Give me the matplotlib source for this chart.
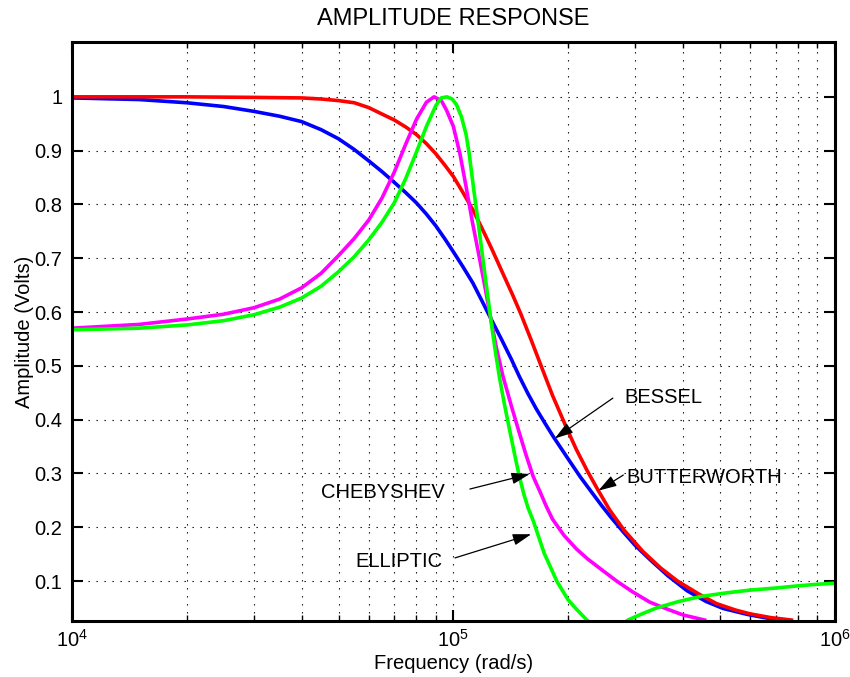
import matplotlib
matplotlib.use("Agg")
from matplotlib import pyplot as plt
from matplotlib.ticker import LogLocator, NullFormatter, FixedLocator

plt.rcParams['font.family'] = ['Liberation Sans', 'DejaVu Sans']
plt.rcParams['mathtext.fontset'] = 'custom'
plt.rcParams['mathtext.rm'] = 'Liberation Sans'

# values (frequency in rad/s, amplitude in volts)
bessel_w = [1e4, 1.5e4, 2e4, 2.5e4, 3e4, 3.5e4, 4e4, 4.5e4, 5e4, 5.5e4, 6e4, 6.5e4,
            7e4, 7.5e4, 8e4, 8.5e4, 9e4, 9.5e4, 1e5, 1.06e5, 1.125e5, 1.19e5,
            1.26e5, 1.34e5, 1.42e5, 1.49e5, 1.57e5, 1.65e5, 1.74e5, 1.83e5,
            2e5, 2.15e5, 2.3e5, 2.45e5, 2.6e5, 2.8e5, 3.0e5, 3.3e5, 3.65e5,
            4.1e5, 4.6e5, 5.1e5, 5.9e5, 6.9e5, 7.4e5]
bessel_a = [0.998, 0.995, 0.989, 0.982, 0.973, 0.964, 0.954, 0.939, 0.922, 0.902,
            0.881, 0.861, 0.841, 0.822, 0.803, 0.782, 0.760, 0.736, 0.712, 0.684,
            0.654, 0.620, 0.585, 0.548, 0.512, 0.480, 0.448, 0.420, 0.393, 0.368,
            0.327, 0.294, 0.266, 0.240, 0.217, 0.190, 0.166, 0.138, 0.110,
            0.082, 0.062, 0.049, 0.038, 0.029, 0.0255]

butter_w = [1e4, 2e4, 3e4, 4e4, 4.5e4, 5e4, 5.5e4, 6e4, 6.5e4, 7e4, 7.5e4, 8e4,
            8.5e4, 9e4, 9.5e4, 1e5, 1.06e5, 1.125e5, 1.19e5, 1.26e5, 1.34e5,
            1.43e5, 1.5e5, 1.6e5, 1.72e5, 1.82e5, 1.98e5, 2.1e5, 2.24e5, 2.4e5,
            2.57e5, 2.8e5, 3.14e5, 3.5e5, 3.87e5, 4.4e5, 4.9e5, 5.5e5, 6e5,
            6.8e5, 7.7e5]
butter_a = [1.0, 1.0, 0.999, 0.998, 0.996, 0.993, 0.989, 0.980, 0.968, 0.957,
            0.944, 0.930, 0.913, 0.894, 0.873, 0.852, 0.822, 0.790, 0.755, 0.718,
            0.676, 0.632, 0.598, 0.548, 0.490, 0.445, 0.385, 0.345, 0.306, 0.268,
            0.232, 0.195, 0.155, 0.124, 0.100, 0.076, 0.058, 0.046, 0.039,
            0.032, 0.0275]

cheby_w = [1e4, 1.5e4, 2e4, 2.5e4, 3e4, 3.5e4, 4e4, 4.5e4, 5e4, 5.5e4, 6e4, 6.5e4,
           7e4, 7.5e4, 8e4, 8.5e4, 8.9e4, 9.3e4, 9.6e4, 1e5, 1.04e5, 1.08e5,
           1.12e5, 1.16e5, 1.21e5, 1.26e5, 1.3e5, 1.35e5, 1.42e5, 1.49e5,
           1.55e5, 1.62e5, 1.69e5, 1.75e5, 1.82e5, 1.95e5, 2.1e5, 2.25e5,
           2.46e5, 2.68e5, 2.95e5, 3.27e5, 3.6e5, 4e5, 4.56e5]
cheby_a = [0.570, 0.577, 0.587, 0.596, 0.608, 0.624, 0.645, 0.672, 0.705, 0.737,
           0.771, 0.812, 0.860, 0.912, 0.958, 0.990, 1.000, 0.993, 0.975, 0.945,
           0.895, 0.833, 0.770, 0.715, 0.647, 0.579, 0.530, 0.480, 0.425, 0.375,
           0.335, 0.294, 0.265, 0.240, 0.215, 0.185, 0.160, 0.141,
           0.120, 0.100, 0.080, 0.061, 0.049, 0.037, 0.0275]

ellip_w = [1e4, 1.5e4, 2e4, 2.5e4, 3e4, 3.5e4, 4e4, 4.5e4, 5e4, 5.5e4, 6e4, 6.5e4,
           7e4, 7.5e4, 8e4, 8.5e4, 9e4, 9.3e4, 9.62e4, 9.93e4, 1.02e5, 1.05e5,
           1.08e5, 1.1e5, 1.13e5, 1.16e5, 1.19e5, 1.22e5, 1.26e5, 1.29e5,
           1.32e5, 1.36e5, 1.41e5, 1.45e5, 1.49e5, 1.53e5, 1.57e5, 1.62e5,
           1.73e5, 1.87e5, 2.0e5, 2.12e5, 2.24e5, 2.4e5, 2.52e5, 2.7e5, 2.87e5,
           3.1e5, 3.41e5, 3.9e5, 4.43e5, 5.2e5, 5.97e5, 7e5, 8e5, 9e5, 1e6]
ellip_a = [0.567, 0.570, 0.576, 0.584, 0.595, 0.609, 0.626, 0.648, 0.675, 0.703,
           0.734, 0.767, 0.803, 0.848, 0.897, 0.945, 0.984, 0.998, 1.000, 0.996,
           0.985, 0.963, 0.930, 0.895, 0.830, 0.770, 0.709, 0.650, 0.575, 0.525,
           0.480, 0.430, 0.375, 0.333, 0.294, 0.262, 0.236, 0.212,
           0.152, 0.099, 0.065, 0.045, 0.0275, 0.010, 0.0, 0.013, 0.0275,
           0.038, 0.050, 0.062, 0.071, 0.078, 0.083, 0.087, 0.091, 0.094, 0.096]

labels = ["BESSEL", "BUTTERWORTH", "CHEBYSHEV", "ELLIPTIC"]
label_pos = [(2.81e5, 0.442), (2.84e5, 0.293), (4.49e4, 0.265), (5.52e4, 0.136)]
arrow_from = [(2.62e5, 0.440), (2.79e5, 0.297), (1.105e5, 0.271), (1.01e5, 0.143)]
arrow_to = [(1.845e5, 0.365), (2.40e5, 0.268), (1.587e5, 0.299), (1.60e5, 0.187)]

y_ticks = [0.1, 0.2, 0.3, 0.4, 0.5, 0.6, 0.7, 0.8, 0.9, 1.0]
y_ticklabels = ["0.1", "0.2", "0.3", "0.4", "0.5", "0.6", "0.7", "0.8", "0.9", "1"]

fig = plt.figure(figsize=(8.5, 6.77), dpi=100)
ax = fig.add_axes([0.0847, 0.0827, 0.8973, 0.8553])

ax.plot(bessel_w, bessel_a, color=(0, 0, 1), lw=2.6)
ax.plot(butter_w, butter_a, color=(1, 0, 0), lw=2.6)
ax.plot(cheby_w, cheby_a, color=(1, 0, 1), lw=2.6)
ax.plot(ellip_w, ellip_a, color=(0, 1, 0), lw=2.6)

ax.set_xscale('log')
ax.set_xlim(1e4, 1e6)
ax.set_ylim(0.0257, 1.102)
ax.yaxis.set_major_locator(FixedLocator(y_ticks))
ax.set_yticklabels(y_ticklabels)
ax.xaxis.set_minor_locator(LogLocator(base=10, subs=range(2, 10)))
ax.xaxis.set_minor_formatter(NullFormatter())

# dotted MATLAB-like grid
grid_style = dict(ls=(0, (1.2, 6)), color='k', lw=0.8)
ax.grid(True, which='major', **grid_style)
ax.grid(True, which='minor', axis='x', **grid_style)

ax.tick_params(which='both', direction='in', top=True, right=True, labelsize=14.5)
ax.tick_params(which='major', length=8, width=1.5)
ax.tick_params(which='minor', length=4, width=1)
ax.tick_params(axis='y', pad=7)
ax.tick_params(axis='x', pad=6)
for s in ax.spines.values():
    s.set_linewidth(2.2)

ax.set_title("AMPLITUDE RESPONSE", fontsize=17, pad=12)
ax.set_xlabel("Frequency (rad/s)", fontsize=14.5, labelpad=2)
ax.set_ylabel("Amplitude (Volts)", fontsize=14.5, labelpad=0)

for lab, pos, a0, a1 in zip(labels, label_pos, arrow_from, arrow_to):
    ax.text(pos[0], pos[1], lab, fontsize=14.5, ha='left', va='center')
    ax.annotate('', xy=a1, xytext=a0,
                arrowprops=dict(arrowstyle='-|>,head_length=0.8,head_width=0.25',
                                color='k', lw=0.9, shrinkA=0, shrinkB=0,
                                mutation_scale=14))

fig.savefig("out.png", dpi=100)
